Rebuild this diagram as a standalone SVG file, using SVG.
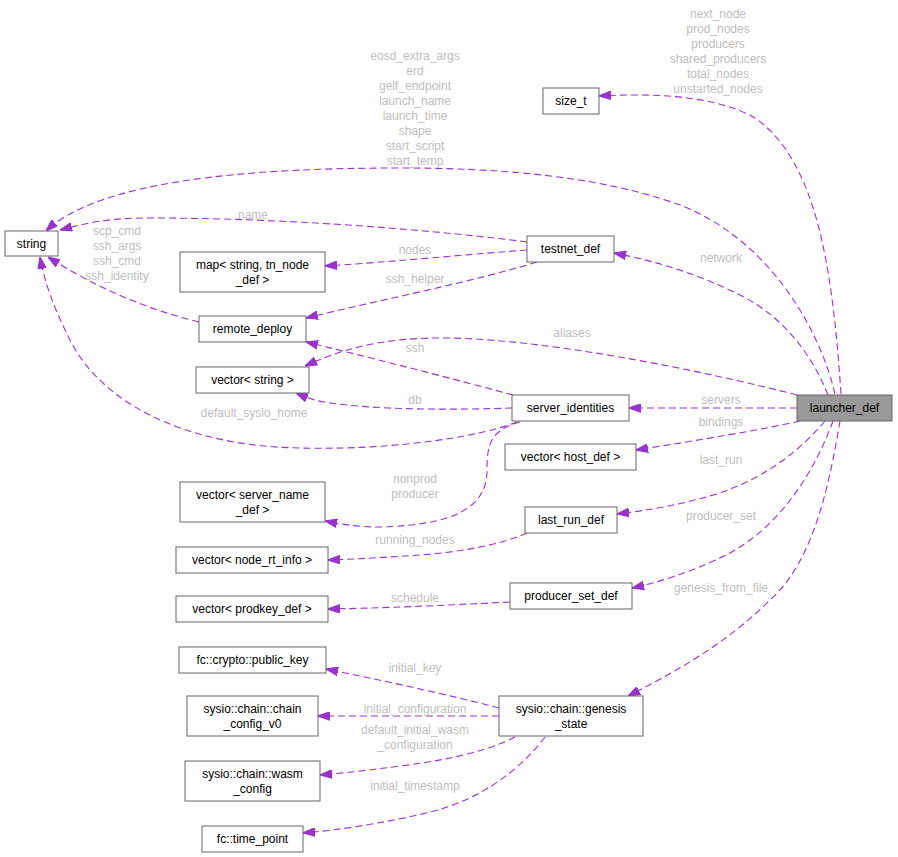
<svg xmlns="http://www.w3.org/2000/svg" width="898" height="857" viewBox="0 0 898 857">
<style>
.n rect{fill:#fff;stroke:#666;stroke-width:1}
.n text{font-family:"Liberation Sans",Arial,sans-serif;font-size:12px;fill:#000;text-anchor:middle}
.e path{fill:none;stroke:#9a32cd;stroke-width:1.1;stroke-dasharray:7,4;marker-end:url(#ah)}
.l{font-family:"Liberation Sans",Arial,sans-serif;font-size:12px;fill:#bebebe;text-anchor:middle}
</style>
<defs>
<marker id="ah" viewBox="0 0 10 7" refX="10" refY="3.5" markerWidth="12" markerHeight="9" markerUnits="userSpaceOnUse" orient="auto">
<path d="M0,0 L10,3.5 L0,7 z" fill="#9a32cd" stroke="#9a32cd" stroke-dasharray="none"/>
</marker>
</defs>
<rect width="898" height="857" fill="#fff"/>
<g id="edges" class="e">
<path d="M841,394 C832,260 815,160 755,118 C715,95 650,93 599,96"/>
<path d="M835,394 C820,330 770,240 680,205 C600,176 500,168 400,168 C250,168 100,180 46,231"/>
<path d="M527,242 C450,232 300,218 150,218 C110,218 90,222 60,230"/>
<path d="M527,250 C460,255 390,262 325,266"/>
<path d="M537,262 C480,280 380,300 306,318"/>
<path d="M199,322 C150,310 100,290 48,257"/>
<path d="M517,422 C470,440 380,450 300,448 C180,446 100,400 70,340 C55,310 45,285 40,257"/>
<path d="M513,395 C450,378 380,360 306,342"/>
<path d="M512,408 C450,410 380,410 330,403 C315,401 305,397 296,393"/>
<path d="M797,395 C700,370 550,340 450,338 C380,337 340,350 305,366"/>
<path d="M828,395 C810,350 780,315 740,295 C700,275 660,262 614,253"/>
<path d="M797,408 L629,408"/>
<path d="M800,421 C760,430 700,440 636,450"/>
<path d="M825,421 C800,450 770,475 720,493 C680,505 650,510 617,514"/>
<path d="M833,421 C815,470 780,530 720,558 C690,572 660,582 632,588"/>
<path d="M840,421 C830,480 815,560 770,600 C730,640 680,670 628,696"/>
<path d="M520,422 C490,430 487,445 487,470 C487,510 450,525 380,527 C360,527 345,525 325,521"/>
<path d="M527,533 C500,545 460,552 420,555 C390,557 360,559 328,560"/>
<path d="M510,602 C450,605 390,608 328,609"/>
<path d="M499,708 C450,695 380,680 326,669"/>
<path d="M499,716 L318,716"/>
<path d="M515,737 C490,750 450,760 400,766 C370,770 345,773 320,775"/>
<path d="M545,737 C520,770 480,800 430,812 C390,822 340,830 303,833"/>
</g>
<g id="labels">
<text class="l" x="718" y="18">next_node</text>
<text class="l" x="718" y="33">prod_nodes</text>
<text class="l" x="718" y="48">producers</text>
<text class="l" x="718" y="63">shared_producers</text>
<text class="l" x="718" y="78">total_nodes</text>
<text class="l" x="718" y="93">unstarted_nodes</text>
<text class="l" x="415" y="60">eosd_extra_args</text>
<text class="l" x="415" y="75">erd</text>
<text class="l" x="415" y="90">gelf_endpoint</text>
<text class="l" x="415" y="105">launch_name</text>
<text class="l" x="415" y="120">launch_time</text>
<text class="l" x="415" y="135">shape</text>
<text class="l" x="415" y="150">start_script</text>
<text class="l" x="415" y="165">start_temp</text>
<text class="l" x="253" y="219">name</text>
<text class="l" x="415" y="254">nodes</text>
<text class="l" x="415" y="283">ssh_helper</text>
<text class="l" x="117" y="235">scp_cmd</text>
<text class="l" x="117" y="250">ssh_args</text>
<text class="l" x="117" y="265">ssh_cmd</text>
<text class="l" x="117" y="280">ssh_identity</text>
<text class="l" x="721" y="262">network</text>
<text class="l" x="572" y="337">aliases</text>
<text class="l" x="415" y="352">ssh</text>
<text class="l" x="415" y="404">db</text>
<text class="l" x="721" y="404">servers</text>
<text class="l" x="254" y="417">default_sysio_home</text>
<text class="l" x="721" y="426">bindings</text>
<text class="l" x="721" y="464">last_run</text>
<text class="l" x="415" y="483">nonprod</text>
<text class="l" x="415" y="498">producer</text>
<text class="l" x="721" y="520">producer_set</text>
<text class="l" x="415" y="544">running_nodes</text>
<text class="l" x="721" y="592">genesis_from_file</text>
<text class="l" x="415" y="602">schedule</text>
<text class="l" x="415" y="672">initial_key</text>
<text class="l" x="415" y="713">initial_configuration</text>
<text class="l" x="415" y="734">default_initial_wasm</text>
<text class="l" x="415" y="749">_configuration</text>
<text class="l" x="415" y="790">initial_timestamp</text>
</g>
<g id="launcher_def" class="n"><rect x="797" y="395" width="95" height="26" style="fill:#999"/><text x="844.5" y="412">launcher_def</text></g>
<g id="size_t" class="n"><rect x="543" y="88" width="56" height="26"/><text x="571" y="105">size_t</text></g>
<g id="string" class="n"><rect x="5" y="231" width="53" height="25"/><text x="31.5" y="248">string</text></g>
<g id="testnet_def" class="n"><rect x="527" y="236" width="87" height="26"/><text x="570.5" y="253">testnet_def</text></g>
<g id="map_string_tn_node_def" class="n"><rect x="180" y="252" width="145" height="40"/><text x="252.5" y="269">map&lt; string, tn_node</text><text x="252.5" y="284">_def &gt;</text></g>
<g id="remote_deploy" class="n"><rect x="199" y="316" width="107" height="26"/><text x="252.5" y="333">remote_deploy</text></g>
<g id="vector_string" class="n"><rect x="196" y="367" width="113" height="26"/><text x="252.5" y="384">vector&lt; string &gt;</text></g>
<g id="server_identities" class="n"><rect x="512" y="395" width="117" height="26"/><text x="570.5" y="412">server_identities</text></g>
<g id="vector_host_def" class="n"><rect x="505" y="444" width="131" height="26"/><text x="570.5" y="461">vector&lt; host_def &gt;</text></g>
<g id="vector_server_name_def" class="n"><rect x="180" y="482" width="145" height="40"/><text x="252.5" y="499">vector&lt; server_name</text><text x="252.5" y="514">_def &gt;</text></g>
<g id="last_run_def" class="n"><rect x="525" y="507" width="92" height="26"/><text x="571" y="524">last_run_def</text></g>
<g id="vector_node_rt_info" class="n"><rect x="176" y="547" width="152" height="26"/><text x="252" y="564">vector&lt; node_rt_info &gt;</text></g>
<g id="producer_set_def" class="n"><rect x="510" y="583" width="122" height="26"/><text x="571" y="600">producer_set_def</text></g>
<g id="vector_prodkey_def" class="n"><rect x="176" y="596" width="152" height="26"/><text x="252" y="613">vector&lt; prodkey_def &gt;</text></g>
<g id="public_key" class="n"><rect x="179" y="647" width="147" height="26"/><text x="252.5" y="664">fc::crypto::public_key</text></g>
<g id="chain_config_v0" class="n"><rect x="187" y="696" width="131" height="40"/><text x="252.5" y="713">sysio::chain::chain</text><text x="252.5" y="728">_config_v0</text></g>
<g id="genesis_state" class="n"><rect x="499" y="696" width="144" height="40"/><text x="571" y="713">sysio::chain::genesis</text><text x="571" y="728">_state</text></g>
<g id="wasm_config" class="n"><rect x="185" y="761" width="135" height="40"/><text x="252.5" y="778">sysio::chain::wasm</text><text x="252.5" y="793">_config</text></g>
<g id="time_point" class="n"><rect x="202" y="826" width="101" height="26"/><text x="252.5" y="843">fc::time_point</text></g>
</svg>
